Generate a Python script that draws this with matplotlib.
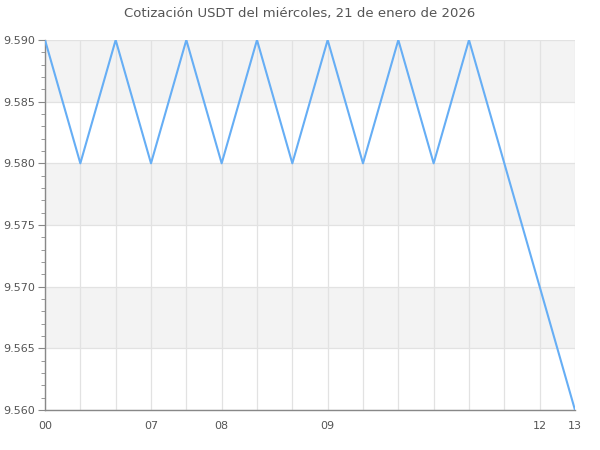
import matplotlib
matplotlib.use('Agg')
import matplotlib.pyplot as plt
from matplotlib.ticker import MultipleLocator

# quote per sample, 16 samples
prices = [9.590, 9.580, 9.590, 9.580, 9.590, 9.580, 9.590, 9.580,
          9.590, 9.580, 9.590, 9.580, 9.590, 9.580, 9.570, 9.560]
hour_labels = ['00', '', '', '07', '', '08', '', '', '09', '', '', '', '', '', '12', '13']
title = 'Cotización USDT del miércoles, 21 de enero de 2026'

x = list(range(len(prices)))
txt = '#555555'

fig = plt.figure(figsize=(6, 4.5), dpi=100)
ax = fig.add_axes([0.075, 0.0889, 0.8833, 0.8222])

ymin, ymax = 9.560, 9.590
# alternating grey bands
b = 9.565
while b < ymax:
    ax.axhspan(b, b + 0.005, color='#f3f3f3', zorder=0, lw=0)
    b += 0.010

ax.plot(x, prices, color='#66aef5', lw=1.5, zorder=3)

ax.set_xlim(0, len(prices) - 1)
ax.set_ylim(ymin, ymax)
ax.set_xticks(x)
ax.set_xticklabels(hour_labels)
ax.yaxis.set_major_locator(MultipleLocator(0.005))
ax.yaxis.set_minor_locator(MultipleLocator(0.001))
ax.yaxis.set_major_formatter(plt.FuncFormatter(lambda v, p: f'{v:.3f}'))

ax.grid(True, which='major', color='#e2e2e2', lw=0.9, zorder=1)
ax.set_axisbelow(True)

for s in ['top', 'right']:
    ax.spines[s].set_visible(False)
for s in ['left', 'bottom']:
    ax.spines[s].set_color('#888888')
    ax.spines[s].set_linewidth(1)

ax.tick_params(axis='x', length=0, pad=8, labelsize=8, labelcolor=txt)
ax.tick_params(axis='y', which='major', length=5, color='#888888', labelsize=8, labelcolor=txt, pad=2)
ax.tick_params(axis='y', which='minor', length=3, color='#888888')

fig.suptitle(title, y=0.985, fontsize=9.5, color=txt)

fig.savefig('out.png', dpi=100)
